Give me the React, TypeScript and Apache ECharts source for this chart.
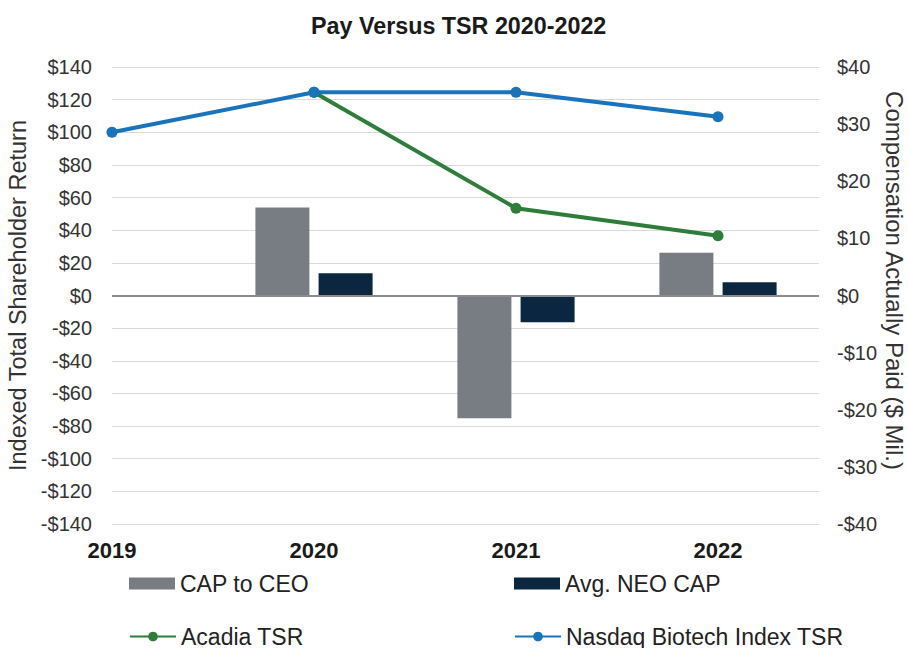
import React, { useEffect, useRef } from "react";
import * as echarts from "echarts";

const years = [2019, 2020, 2021, 2022];
const barYears = [2020, 2021, 2022];
const capToCeo = [15.4, -21.5, 7.5];
const avgNeoCap = [3.9, -4.7, 2.3];
const acadiaYears = [2020, 2021, 2022];
const acadiaTsr = [124.5, 53.5, 36.6];
const nasdaqTsr = [100, 124.5, 124.5, 109.5];
const leftTicks = { min: -140, max: 140, interval: 20 };
const rightTicks = { min: -40, max: 40, interval: 10 };

const FONT = "Liberation Sans, Arial, sans-serif";

export default function App() {
  const ref = useRef<HTMLDivElement>(null);
  useEffect(() => {
    if (!ref.current) return;
    const chart = echarts.init(ref.current, undefined, { renderer: "svg" });
    const legendText = { fontSize: 23, color: "#222", fontFamily: FONT };
    chart.setOption({
      animation: false,
      textStyle: { fontFamily: FONT },
      title: {
        text: "Pay Versus TSR 2020-2022",
        left: 311,
        top: 14,
        padding: 0,
        textStyle: { fontSize: 23.3, fontWeight: "bold", color: "#1a1a1a", fontFamily: FONT },
      },
      legend: [
        { data: ["CAP to CEO"], icon: "rect", left: 129, top: 572, padding: 0, itemWidth: 46, itemHeight: 12, textStyle: legendText },
        { data: ["Avg. NEO CAP"], icon: "rect", left: 514, top: 572, padding: 0, itemWidth: 46, itemHeight: 12, textStyle: legendText },
        { data: ["Acadia TSR"], left: 129, top: 625, padding: 0, itemWidth: 46, itemHeight: 12, textStyle: legendText },
        { data: ["Nasdaq Biotech Index TSR"], left: 514, top: 625, padding: 0, itemWidth: 46, itemHeight: 12, textStyle: legendText },
      ],
      grid: { left: 112, right: 89, top: 67, bottom: 124, containLabel: false, outerBoundsMode: "none" },
      xAxis: {
        type: "value",
        min: 2019,
        max: 2022.5,
        interval: 1,
        axisLine: { show: false },
        axisTick: { show: false },
        splitLine: { show: false },
        axisLabel: {
          margin: 15,
          fontSize: 22,
          fontWeight: "bold",
          color: "#1a1a1a",
          showMaxLabel: false,
          formatter: (v: number) => (Number.isInteger(v) ? String(v) : ""),
        },
      },
      yAxis: [
        {
          type: "value",
          ...leftTicks,
          name: "Indexed Total Shareholder Return",
          nameLocation: "middle",
          nameGap: 77,
          nameTextStyle: { fontSize: 23.5, color: "#333", fontFamily: FONT },
          axisLine: { show: false },
          axisTick: { show: false },
          splitLine: { show: true, lineStyle: { color: "#d9d9d9", width: 1 } },
          axisLabel: {
            margin: 20,
            fontSize: 20,
            color: "#333",
            formatter: (v: number) => (v < 0 ? "-$" + Math.abs(v) : "$" + v),
          },
        },
        {
          type: "value",
          ...rightTicks,
          name: "Compensation Actually Paid ($ Mil.)",
          nameLocation: "middle",
          nameRotate: -90,
          nameGap: 63,
          nameMoveOverlap: false,
          nameTextStyle: { fontSize: 24, color: "#333", fontFamily: FONT, padding: [0, 30, 0, 0] },
          axisLine: { show: false },
          axisTick: { show: false },
          splitLine: { show: false },
          axisLabel: {
            margin: 18,
            fontSize: 20,
            color: "#333",
            formatter: (v: number) => (v < 0 ? "-$" + Math.abs(v) : "$" + v),
          },
        },
      ],
      series: [
        {
          name: "CAP to CEO",
          type: "bar",
          yAxisIndex: 1,
          barWidth: 54,
          barGap: "17%",
          itemStyle: { color: "#787d83" },
          data: barYears.map((y, i) => [y, capToCeo[i]]),
          markLine: {
            silent: true,
            symbol: "none",
            label: { show: false },
            lineStyle: { color: "#8c8c8c", width: 2, type: "solid" },
            data: [{ yAxis: 0 }],
          },
        },
        {
          name: "Avg. NEO CAP",
          type: "bar",
          yAxisIndex: 1,
          barWidth: 54,
          barGap: "17%",
          itemStyle: { color: "#0b2740" },
          data: barYears.map((y, i) => [y, avgNeoCap[i]]),
        },
        {
          name: "Acadia TSR",
          type: "line",
          yAxisIndex: 0,
          symbol: "circle",
          symbolSize: 11,
          itemStyle: { color: "#2f7d3b" },
          lineStyle: { color: "#2f7d3b", width: 4 },
          data: acadiaYears.map((y, i) => [y, acadiaTsr[i]]),
        },
        {
          name: "Nasdaq Biotech Index TSR",
          type: "line",
          yAxisIndex: 0,
          symbol: "circle",
          symbolSize: 11,
          itemStyle: { color: "#1a74bb" },
          lineStyle: { color: "#1a74bb", width: 4 },
          data: years.map((y, i) => [y, nasdaqTsr[i]]),
        },
      ],
    });
    return () => chart.dispose();
  }, []);
  return (
    <div
      ref={ref}
      style={{ position: "absolute", left: 0, top: 0, width: 908, height: 648, background: "#fff" }}
    />
  );
}
